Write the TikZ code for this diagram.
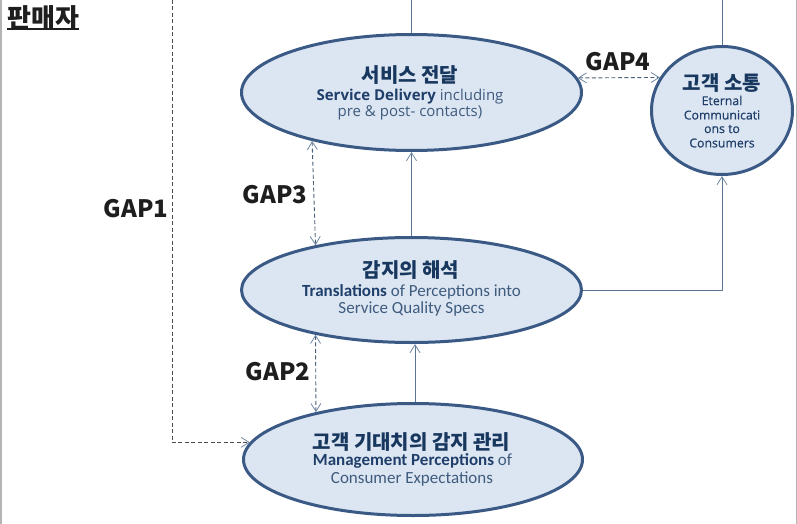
\documentclass[tikz,border=0pt]{standalone}
\usepackage{fontspec}
\usetikzlibrary{arrows.meta,shapes.geometric}
\newfontfamily\krfont{Noto Sans CJK KR}
\newfontfamily\nsfont{Open Sans}
\newfontfamily\nsfontsemi{Open Sans}[FakeBold=0.6]
\newfontfamily\calfont{Carlito}
\definecolor{ellfill}{HTML}{DCE6F2}
\definecolor{elldraw}{HTML}{3A5A85}
\definecolor{titlec}{HTML}{17375E}
\definecolor{boldc}{HTML}{1F3F6A}
\definecolor{regc}{HTML}{3F5B7E}
\definecolor{connc}{HTML}{5B7694}
\definecolor{gapc}{HTML}{4A5F78}
\definecolor{tipc}{HTML}{6F88A3}
\definecolor{gaplab}{HTML}{1E1E1E}
\definecolor{framec}{HTML}{B4B4B4}
\begin{document}
\begin{tikzpicture}[x=1pt,y=-1pt,
  ell/.style={ellipse,draw=elldraw,fill=ellfill,line width=3pt,inner sep=0pt},
  ktitle/.style={font=\krfont\bfseries\fontsize{20}{22}\selectfont,text=titlec,inner sep=0pt},
  etext/.style={font=\calfont\fontsize{17}{19}\selectfont,text=regc,inner sep=0pt},
  ntext/.style={font=\nsfont\fontsize{15}{17}\selectfont,text=regc,inner sep=0pt},
  ctext/.style={font=\nsfontsemi\fontsize{12.3}{14}\selectfont,text=boldc,inner sep=0pt},
  conn/.style={draw=connc,line width=0.9pt},
  tipstyle/.style={},
  arr/.style={-{Straight Barb[length=8pt,width=10pt,line width=0.8pt,color=tipc]}},
  darr/.style={{Straight Barb[length=8pt,width=10pt,line width=0.8pt,color=tipc]}-{Straight Barb[length=8pt,width=10pt,line width=0.8pt,color=tipc]}},
  gapline/.style={draw=gapc,line width=0.9pt,dash pattern=on 4pt off 2.5pt},
  gaplabel/.style={font=\krfont\bfseries\fontsize{24}{26}\selectfont,text=gaplab,inner sep=0pt}
]
\useasboundingbox (0,0) rectangle (797,524);
% frame lines
\draw[framec,line width=1.6pt] (1,0) -- (1,524);
\draw[framec,line width=1pt] (796,0) -- (796,524);

% title
\node[font=\krfont\bfseries\fontsize{26}{28}\selectfont,text=gaplab,inner sep=0pt,anchor=west] (seller) at (7,18) {판매자};
\draw[gaplab,line width=1.2pt] (seller.south west |- 0,29) -- (seller.south east |- 0,29);

% ellipses
\node[ell,minimum width=340pt,minimum height=116pt] (e1) at (411.5,92.5) {};
\node[ell,minimum width=340pt,minimum height=105pt] (e2) at (411.5,290) {};
\node[ell,minimum width=339pt,minimum height=112pt] (e3) at (413,459.5) {};
\node[ell,minimum width=141pt,minimum height=128pt] (c) at (722,110.5) {};

% texts e1
\node[ktitle] (e1a) at (410,75) {서비스 전달};
\node[ntext] (e1b) at (410,96.5) {\textcolor{boldc}{\bfseries Service Delivery} including};
\node[ntext] (e1c) at (410,113) {pre \& post- contacts)};
% texts e2
\node[ktitle] (e2a) at (411,270) {감지의 해석};
\node[etext] (e2b) at (411.5,292) {\textcolor{boldc}{\bfseries Translations} of Perceptions into};
\node[etext] (e2c) at (411.5,309) {Service Quality Specs};
% texts e3
\node[ktitle] (e3a) at (411.5,442) {고객 기대치의 감지 관리};
\node[etext] (e3b) at (412.5,461) {\textcolor{boldc}{\bfseries Management Perceptions} of};
\node[etext] (e3c) at (412,479) {Consumer Expectations};
% texts circle
\node[ktitle] (ca) at (722,83) {고객 소통};
\node[ctext] (cb) at (722,100.5) {Eternal};
\node[ctext] (cc) at (722,115) {Communicati};
\node[ctext] (cd) at (722,129) {ons to};
\node[ctext] (ce) at (722,143) {Consumers};

% solid connectors
\coordinate (top1) at (411.5,0);
\coordinate (top2) at (722,0);
\draw[conn] (top1) -- (e1.north);
\draw[conn] (top2) -- (c.north);
\draw[conn,arr] (e2.north) -- (e1.south);
\draw[conn,arr] ([xshift=2pt]e3.north) -- ([xshift=2pt]e3.north |- e2.south);
\draw[conn,arr] (e2.east) -| (c.south);

% gaps
\draw[gapline,darr] (e1.206.7) -- (e2.155.5);
\draw[gapline,darr] (e2.205.2) -- (e3.154.0);
\draw[gapline,darr] (e1.5.0) -- (c.152.5);
\coordinate (g1top) at (172,0);
\draw[gapline,draw=gaplab!80,arr] (g1top) |- (e3.174.6);

% gap labels
\node[gaplabel] (gap1) at (136,209) {GAP1};
\node[gaplabel] (gap3) at (275,195) {GAP3};
\node[gaplabel] (gap2) at (278,372) {GAP2};
\node[gaplabel] (gap4) at (618,61.5) {GAP4};
\end{tikzpicture}
\end{document}
